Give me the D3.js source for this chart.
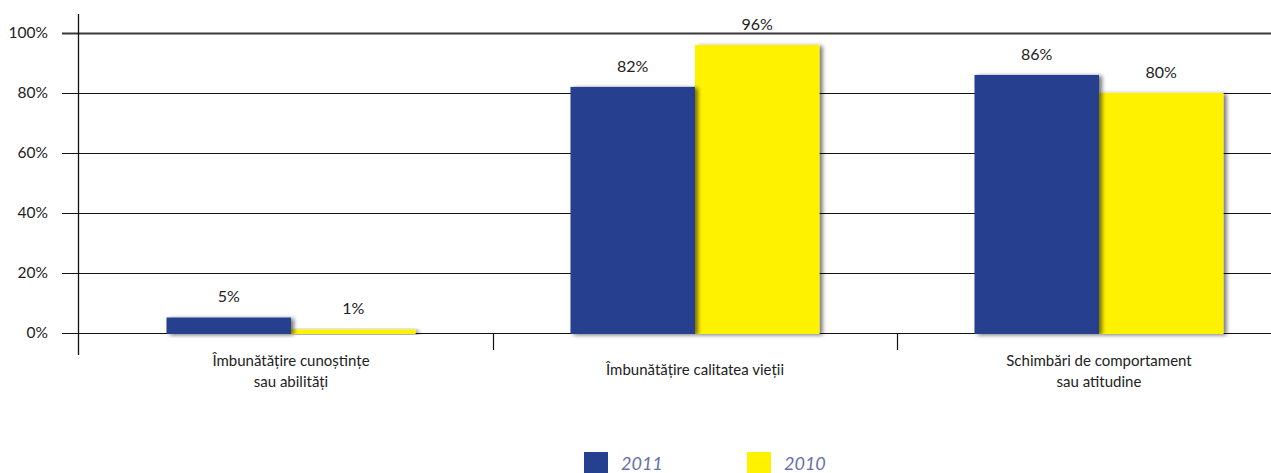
<!DOCTYPE html>
<html>
<head>
<meta charset="utf-8">
<script src="https://cdn.jsdelivr.net/npm/d3@7"></script>
<style>
  html, body { margin: 0; padding: 0; background: #fff; }
  svg { display: block; font-family: Lato, "DejaVu Sans", sans-serif; }
</style>
</head>
<body>
<svg id="chart" width="1271" height="473"></svg>
<script>
// Categories (two-line labels) and the two yearly series, in percent
const categories = [
  "Îmbunătățire cunoștințe\nsau abilități",
  "Îmbunătățire calitatea vieții",
  "Schimbări de comportament\nsau atitudine"
];
const series = ["2011", "2010"];
const values2011 = [5, 82, 86];
const values2010 = [1, 96, 80];
const yTicks = [0, 20, 40, 60, 80, 100];

const colors = { "2011": "#25408f", "2010": "#fff200" };

const svg = d3.select("#chart");

const defs = svg.append("defs");
const shadow = defs.append("filter").attr("id", "barShadow")
  .attr("x", "-10%").attr("y", "-20%").attr("width", "130%").attr("height", "140%");
shadow.append("feDropShadow")
  .attr("dx", 3).attr("dy", 1).attr("stdDeviation", 2)
  .attr("flood-color", "#000").attr("flood-opacity", 0.55);

const y = d3.scaleLinear().domain([0, 100]).range([332.5, 33]);
const x = d3.scaleBand().domain(categories).range([89, 1301]);
const xs = d3.scaleBand().domain(series).range([0, 249]);

// Gridlines with tick stubs left of the axis
const grid = svg.append("g");
grid.selectAll("line").data(yTicks).join("line")
  .attr("x1", 62).attr("x2", 1271)
  .attr("y1", d => Math.round(y(d)) + 0.5)
  .attr("y2", d => Math.round(y(d)) + 0.5)
  .attr("stroke", d => d === 100 ? "#3a3a3a" : "#111")
  .attr("stroke-width", d => d === 100 ? 2 : 1);

grid.selectAll("text").data(yTicks).join("text")
  .attr("x", 48).attr("y", d => y(d))
  .attr("dy", "0.35em")
  .attr("text-anchor", "end")
  .attr("font-size", 15.5)
  .attr("fill", "#222")
  .text(d => d + "%");

// Category separator ticks below the baseline
const bounds = categories.slice(1).map(c => x(c));
svg.append("g").selectAll("line").data(bounds).join("line")
  .attr("x1", d => Math.round(d) + 0.5).attr("x2", d => Math.round(d) + 0.5)
  .attr("y1", 333).attr("y2", 350)
  .attr("stroke", "#111").attr("stroke-width", 1.2);

// Vertical axis
svg.append("line")
  .attr("x1", 78.5).attr("x2", 78.5).attr("y1", 14).attr("y2", 355)
  .attr("stroke", "#111").attr("stroke-width", 1.3);

// Bars
const rows = categories.map((c, i) => ({
  cat: c,
  vals: [{ s: "2011", v: values2011[i] }, { s: "2010", v: values2010[i] }]
}));

const groups = svg.append("g").selectAll("g").data(rows).join("g")
  .attr("transform", d => `translate(${x(d.cat) + (x.bandwidth() - 249) / 2},0)`);

groups.selectAll("rect").data(d => d.vals.slice().reverse()).join("rect")
  .attr("x", d => xs(d.s))
  .attr("y", d => y(d.v))
  .attr("width", xs.bandwidth())
  .attr("height", d => y(0) + 1.5 - y(d.v))
  .attr("fill", d => colors[d.s])
  .attr("filter", "url(#barShadow)");

groups.selectAll("text.val").data(d => d.vals).join("text")
  .attr("class", "val")
  .attr("x", d => xs(d.s) + xs.bandwidth() / 2)
  .attr("y", d => y(d.v) - 21)
  .attr("dy", "0.35em")
  .attr("text-anchor", "middle")
  .attr("font-size", 16)
  .attr("fill", "#222")
  .text(d => d.v + "%");

// Category labels
groups.each(function (d) {
  const lines = d.cat.split("\n");
  const t = d3.select(this).append("text")
    .attr("text-anchor", "middle")
    .attr("font-size", 15)
    .attr("fill", "#222");
  const y0 = lines.length === 1 ? 370 : 361;
  lines.forEach((ln, k) => {
    t.append("tspan").attr("x", 124.5).attr("y", y0 + k * 21)
      .attr("dy", "0.35em").text(ln);
  });
});

// Legend
const legend = svg.append("g");
const legendX = d3.scalePoint().domain(series).range([584, 747]);
const li = legend.selectAll("g").data(series).join("g")
  .attr("transform", d => `translate(${legendX(d)},452)`);
li.append("rect").attr("width", 24).attr("height", 22).attr("fill", d => colors[d]);
li.append("text")
  .attr("x", 37).attr("y", 17.5)
  .attr("font-size", 18).attr("font-style", "italic")
  .attr("fill", "#6670a8")
  .text(d => d);
</script>
</body>
</html>
